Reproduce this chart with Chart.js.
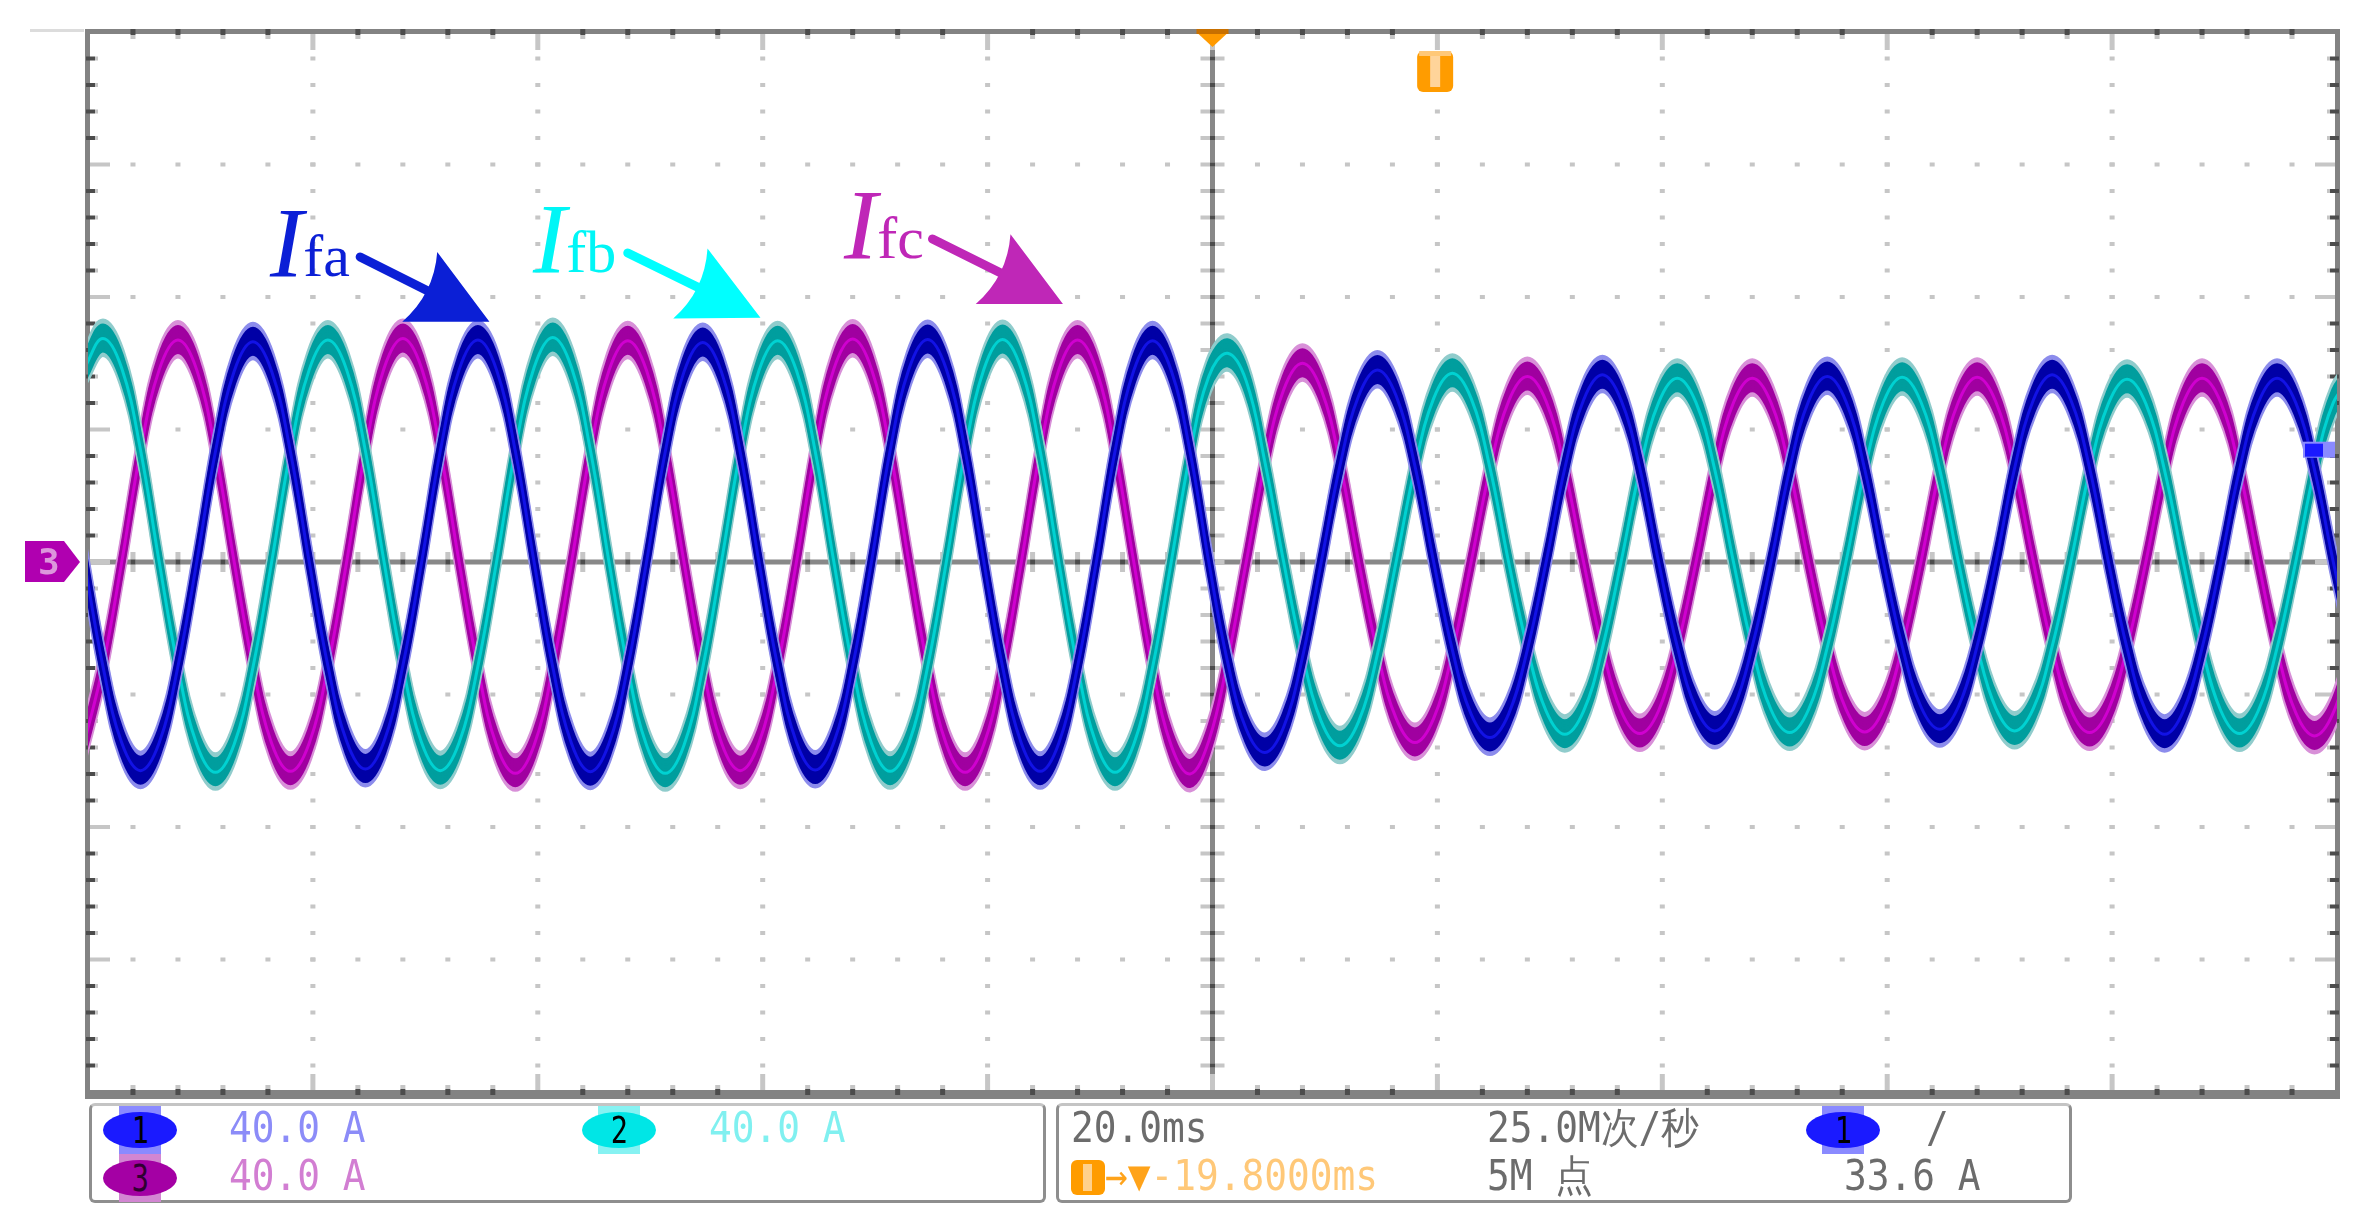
<!DOCTYPE html>
<html lang="zh">
<head>
<meta charset="utf-8">
<title>Ifa Ifb Ifc</title>
<script src="https://cdn.jsdelivr.net/npm/chart.js@4.4.1/dist/chart.umd.min.js"></script>
<style>
html, body { margin: 0; padding: 0; background: #fff; }
#wrap { position: relative; width: 2368px; height: 1228px; overflow: hidden; }
#scope { position: absolute; left: 0; top: 0; width: 2368px; height: 1228px; }
.box { position: absolute; top: 1103px; height: 94px; border: 3px solid #8e8e8e; border-top-color: #c4c4c4; border-radius: 6px; }
.txt { position: absolute; font-family: "DejaVu Sans Mono", monospace; font-size: 42px; line-height: 42px; white-space: nowrap; transform: scaleX(0.9); transform-origin: 0 0; color: #6c6c6c; }
.badge { position: absolute; width: 74px; height: 36px; }
.badge i { position: absolute; left: 16px; top: -6px; width: 42px; height: 48px; background: var(--l); }
.badge b { position: absolute; left: 0; top: 0; width: 74px; height: 36px; border-radius: 50%; background: var(--c); color: #000; font: 38px/36px "DejaVu Sans Mono", monospace; text-align: center; }
.badge b span { display: inline-block; transform: scaleX(0.75); }
.ticon { position: absolute; left: 1071px; top: 1160px; width: 34px; height: 35px; background: #ff9c00; border-radius: 6px; }
.ticon::after { content: ""; position: absolute; left: 12px; top: 4px; width: 9px; height: 27px; background: #ffd18c; }
.lab { position: absolute; font-family: "Liberation Serif", "Times New Roman", serif; font-size: 100px; line-height: 100px; white-space: nowrap; }
.lab i { font-style: italic; }
.lab span { font-size: 60px; line-height: 0; }
.tag3 { position: absolute; left: 38px; top: 544px; font: bold 36px/36px "DejaVu Sans Mono", monospace; color: #dc96dc; }
</style>
</head>
<body>
<div id="wrap">
  <canvas id="scope" width="2368" height="1228"></canvas>

  <div class="lab" style="left:270px;top:193px;color:#0b1fd6"><i>I</i><span>fa</span></div>
  <div class="lab" style="left:533px;top:189px;color:#00f6f6"><i>I</i><span>fb</span></div>
  <div class="lab" style="left:844px;top:175px;color:#bf27b7"><i>I</i><span>fc</span></div>
  <div class="tag3">3</div>

  <div class="box" style="left:89px;width:951px"></div>
  <div class="box" style="left:1056px;width:1010px"></div>

  <div class="badge" style="left:103px;top:1112px;--c:#1a1aff;--l:#8a8aff"><i></i><b><span>1</span></b></div>
  <div class="badge" style="left:582px;top:1112px;--c:#00e6e6;--l:#86f2f2"><i></i><b><span>2</span></b></div>
  <div class="badge" style="left:103px;top:1160px;--c:#a400a4;--l:#d286d2"><i></i><b><span style="color:#300030">3</span></b></div>
  <div class="txt" style="left:229px;top:1107px;color:#8c8cf8">40.0 A</div>
  <div class="txt" style="left:709px;top:1107px;color:#80f0f0">40.0 A</div>
  <div class="txt" style="left:229px;top:1155px;color:#d27ed2">40.0 A</div>

  <div class="txt" style="left:1071px;top:1107px">20.0ms</div>
  <div class="txt" style="left:1487px;top:1107px">25.0M次/秒</div>
  <div class="badge" style="left:1806px;top:1112px;--c:#1a1aff;--l:#8a8aff"><i></i><b><span>1</span></b></div>
  <div class="txt" style="left:1926px;top:1107px">/</div>
  <div class="ticon"></div>
  <div class="txt" style="left:1105px;top:1155px"><span style="color:#ffa31a">→▼</span><span style="color:#ffc878">-19.8000ms</span></div>
  <div class="txt" style="left:1487px;top:1155px">5M 点</div>
  <div class="txt" style="left:1844px;top:1155px">33.6 A</div>
</div>

<script>
// sample times (ms), 12 samples per 20 ms cycle
const times = [
  -100.33, -98.67, -97, -95.33, -93.67, -92, -90.33, -88.67, -87, -85.33, -83.67, -82,
  -80.33, -78.67, -77, -75.33, -73.67, -72, -70.33, -68.67, -67, -65.33, -63.67, -62,
  -60.33, -58.67, -57, -55.33, -53.67, -52, -50.33, -48.67, -47, -45.33, -43.67, -42,
  -40.33, -38.67, -37, -35.33, -33.67, -32, -30.33, -28.67, -27, -25.33, -23.67, -22,
  -20.33, -18.67, -17, -15.33, -13.67, -12, -10.33, -8.67, -7, -5.33, -3.67, -2,
  -0.33, 1.33, 3, 4.67, 6.33, 8, 9.67, 11.33, 13, 14.67, 16.33, 18,
  19.67, 21.33, 23, 24.67, 26.33, 28, 29.67, 31.33, 33, 34.67, 36.33, 38,
  39.67, 41.33, 43, 44.67, 46.33, 48, 49.67, 51.33, 53, 54.67, 56.33, 58,
  59.67, 61.33, 63, 64.67, 66.33, 68, 69.67, 71.33, 73, 74.67, 76.33, 78,
  79.67, 81.33, 83, 84.67, 86.33, 88, 89.67, 91.33, 93, 94.67, 96.33, 98,
  99.67, 101.33
];

// channel 1 (A)
const ifa = [
  0, -31.5, -54.6, -63, -54.6, -31.5, 0, 33.3, 57.6, 66.5, 57.6, 33.3,
  0, -31.3, -54.1, -62.5, -54.1, -31.3, 0, 33.5, 58, 67, 58, 33.5,
  0, -31.7, -54.8, -63.3, -54.8, -31.7, 0, 33.2, 57.4, 66.3, 57.4, 33.2,
  0, -31.4, -54.4, -62.8, -54.4, -31.4, 0, 33.6, 58.2, 67.2, 58.2, 33.6,
  0, -31.6, -54.7, -63.2, -54.7, -31.6, 0, 33.4, 57.8, 66.8, 57.8, 33.4,
  0, -30, -50.5, -57.5, -49.8, -28.8, 0, 29, 50.2, 58, 50.2, 29,
  0, -26.5, -45.9, -53, -45.9, -26.5, 0, 28.3, 48.9, 56.5, 48.9, 28.3,
  0, -25.5, -44.2, -51, -44.2, -25.5, 0, 28, 48.5, 56, 48.5, 28,
  0, -25.3, -43.7, -50.5, -43.7, -25.3, 0, 28.3, 48.9, 56.5, 48.9, 28.3,
  0, -26, -45, -52, -45, -26, 0, 27.8, 48.1, 55.5, 48.1, 27.8,
  0, -26
];

// channel 2 (A)
const ifb = [
  58.5, 67.5, 58.5, 33.8, 0, -31.8, -55, -63.5, -55, -31.8, 0, 33.5,
  58, 67, 58, 33.5, 0, -31.5, -54.6, -63, -54.6, -31.5, 0, 33.9,
  58.7, 67.8, 58.7, 33.9, 0, -31.9, -55.3, -63.8, -55.3, -31.9, 0, 33.4,
  57.8, 66.8, 57.8, 33.4, 0, -31.6, -54.7, -63.2, -54.7, -31.6, 0, 33.6,
  58.2, 67.2, 58.2, 33.6, 0, -31.8, -55, -63.5, -55, -31.8, 0, 32.5,
  56, 63, 54.6, 30, 0, -27.8, -48.1, -55.5, -48.1, -27.8, 0, 28.5,
  49.4, 57, 49.4, 28.5, 0, -26, -45, -52, -45, -26, 0, 27.8,
  48.1, 55.5, 48.1, 27.8, 0, -25.8, -44.6, -51.5, -44.6, -25.8, 0, 27.9,
  48.3, 55.8, 48.3, 27.9, 0, -25.5, -44.2, -51, -44.2, -25.5, 0, 27.6,
  47.8, 55.2, 47.8, 27.6, 0, -25.9, -44.9, -51.8, -44.9, -25.9, 0, 27.8,
  48.1, 55.5
];

// channel 3 (A)
const ifc = [
  -54.6, -31.5, 0, 33.5, 58, 67, 58, 33.5, 0, -31.6, -54.7, -63.2,
  -54.7, -31.6, 0, 33.8, 58.5, 67.5, 58.5, 33.8, 0, -31.9, -55.3, -63.8,
  -55.3, -31.9, 0, 33.4, 57.8, 66.8, 57.8, 33.4, 0, -31.5, -54.6, -63,
  -54.6, -31.5, 0, 33.7, 58.3, 67.3, 58.3, 33.7, 0, -31.8, -55, -63.5,
  -55, -31.8, 0, 33.5, 58, 67, 58, 33.5, 0, -32, -55.4, -64,
  -54, -30, 0, 30, 52, 60, 52, 30, 0, -27.3, -47.2, -54.5,
  -47.2, -27.3, 0, 28, 48.5, 56, 48.5, 28, 0, -25.9, -44.9, -51.8,
  -44.9, -25.9, 0, 27.8, 48.1, 55.5, 48.1, 27.8, 0, -25.7, -44.4, -51.3,
  -44.4, -25.7, 0, 27.9, 48.3, 55.8, 48.3, 27.9, 0, -25.8, -44.6, -51.5,
  -44.6, -25.8, 0, 27.8, 48.1, 55.5, 48.1, 27.8, 0, -26.3, -45.5, -52.5,
  -45.5, -26.3
];

// graticule: 20 ms/div, 40 A/div
const xTicks = [-100, -80, -60, -40, -20, 0, 20, 40, 60, 80, 100];
const yTicks = [-160, -120, -80, -40, 0, 40, 80, 120, 160];

const triggerTime = 19.8;   // ms
const triggerLevel = 33.6;  // A

// label arrows, in (ms, A)
const notes = [
  { color: '#0b1fd6', tail: [-75.8, 92.1], tip: [-64.3, 72.5] },
  { color: '#00ffff', tail: [-52.0, 93.3], tip: [-40.2, 73.7] },
  { color: '#bf27b7', tail: [-24.9, 97.5], tip: [-13.3, 77.9] }
];

const traceStyle = [
  { core: '#1212e6', band: '#0000a6', edge: '#8c8cec' },
  { core: '#00d2d2', band: '#009e9e', edge: '#90cccc' },
  { core: '#d000d0', band: '#a000a0', edge: '#d890d8' }
];

function minorsOf(ticks) {
  const out = [];
  for (let i = 0; i < ticks.length - 1; i++) {
    for (let j = 0; j < 5; j++) out.push(ticks[i] + (ticks[i + 1] - ticks[i]) * j / 5);
  }
  return out.slice(1);
}

const graticule = {
  id: 'graticule',
  beforeDatasetsDraw(chart) {
    const { ctx, chartArea: a, scales: { x, y } } = chart;
    const w = a.right - a.left, h = a.bottom - a.top;
    const xAll = minorsOf(xTicks).map(v => x.getPixelForValue(v));
    const yAll = minorsOf(yTicks).map(v => y.getPixelForValue(v));
    const xMaj = xTicks.slice(1, -1);
    const yMaj = yTicks.slice(1, -1);
    const xMid = x.getPixelForValue(0), yMid = y.getPixelForValue(0);
    const light = '#c6c6c6', dark = '#4c4c4c';
    ctx.save();

    // dotted grid
    ctx.fillStyle = light;
    xMaj.forEach(v => {
      if (v === 0) return;
      const px = x.getPixelForValue(v);
      yAll.forEach(py => ctx.fillRect(px - 2.5, py - 2, 5, 4));
    });
    yMaj.forEach(v => {
      if (v === 0) return;
      const py = y.getPixelForValue(v);
      xAll.forEach(px => ctx.fillRect(px - 2.5, py - 2, 5, 4));
    });

    // center axes
    ctx.fillStyle = '#888';
    ctx.fillRect(xMid - 2.5, a.top, 5, h);
    ctx.fillRect(a.left, yMid - 2.5, w, 5);
    yAll.forEach(py => {
      ctx.fillStyle = light; ctx.fillRect(xMid - 12, py - 2, 24, 4);
      ctx.fillStyle = dark; ctx.fillRect(xMid - 2.5, py - 2, 5, 4);
    });
    xAll.forEach(px => {
      ctx.fillStyle = light; ctx.fillRect(px - 2.5, yMid - 10, 5, 20);
      ctx.fillStyle = dark; ctx.fillRect(px - 2.5, yMid - 2.5, 5, 5);
    });

    // frame
    ctx.fillStyle = '#838383';
    ctx.fillRect(a.left - 3, a.top - 3, w + 6, 5);
    ctx.fillRect(a.left - 3, a.bottom - 2, w + 6, 9);
    ctx.fillRect(a.left - 3, a.top - 3, 5, h + 10);
    ctx.fillRect(a.right - 2, a.top - 3, 5, h + 10);
    ctx.fillStyle = '#dcdcdc';
    ctx.fillRect(30, a.top - 3, a.left - 34, 3);

    const xMajPx = xMaj.map(v => x.getPixelForValue(v));
    const yMajPx = yMaj.map(v => y.getPixelForValue(v));
    xAll.forEach(px => {
      const major = xMajPx.some(m => Math.abs(m - px) < 1);
      if (major) {
        ctx.fillStyle = light;
        ctx.fillRect(px - 2.5, a.top + 2, 5, 16);
        ctx.fillRect(px - 2.5, a.bottom - 18, 5, 16);
      } else {
        ctx.fillStyle = dark;
        ctx.fillRect(px - 2.5, a.top - 3, 5, 6);
        ctx.fillRect(px - 2.5, a.bottom - 3, 5, 6);
        ctx.fillStyle = light;
        ctx.fillRect(px - 2.5, a.top + 3, 5, 4);
        ctx.fillRect(px - 2.5, a.bottom - 7, 5, 4);
      }
    });
    yAll.forEach(py => {
      const major = yMajPx.some(m => Math.abs(m - py) < 1);
      if (major) {
        ctx.fillStyle = light;
        ctx.fillRect(a.left + 2, py - 2, 20, 4);
        ctx.fillRect(a.right - 22, py - 2, 20, 4);
      } else {
        ctx.fillStyle = dark;
        ctx.fillRect(a.left - 2, py - 2, 9, 4);
        ctx.fillRect(a.right - 7, py - 2, 9, 4);
        ctx.fillStyle = light;
        ctx.fillRect(a.left + 7, py - 2, 3, 4);
        ctx.fillRect(a.right - 10, py - 2, 3, 4);
      }
    });
    ctx.restore();
  },

  // noisy trace: a band drawn under each line
  beforeDatasetDraw(chart, args) {
    const st = traceStyle[args.index];
    const line = args.meta.dataset;
    const { ctx, chartArea: a } = chart;
    ctx.save();
    ctx.beginPath();
    ctx.rect(a.left, a.top, a.right - a.left, a.bottom - a.top);
    ctx.clip();
    ctx.lineJoin = 'round';
    [[st.edge, 17, 6], [st.band, 13, 4]].forEach(([color, half, lw]) => {
      ctx.strokeStyle = color;
      ctx.lineWidth = lw;
      for (let off = -half; off <= half; off += 2.5) {
        ctx.save();
        ctx.translate(0, off);
        ctx.beginPath();
        line.path(ctx);
        ctx.stroke();
        ctx.restore();
      }
    });
    ctx.restore();
  },

  afterDatasetsDraw(chart) {
    const { ctx, chartArea: a, scales: { x, y } } = chart;
    ctx.save();

    // label arrows
    notes.forEach(n => {
      const tx = x.getPixelForValue(n.tip[0]), ty = y.getPixelForValue(n.tip[1]);
      const sx = x.getPixelForValue(n.tail[0]), sy = y.getPixelForValue(n.tail[1]);
      const len = Math.hypot(tx - sx, ty - sy);
      const ux = (tx - sx) / len, uy = (ty - sy) / len;
      const head = 78, half = 39;
      const bx = tx - ux * head, by = ty - uy * head;
      ctx.strokeStyle = n.color;
      ctx.fillStyle = n.color;
      ctx.lineWidth = 9;
      ctx.lineCap = 'round';
      ctx.beginPath();
      ctx.moveTo(sx, sy);
      ctx.lineTo(bx + ux * 12, by + uy * 12);
      ctx.stroke();
      ctx.beginPath();
      ctx.moveTo(tx, ty);
      ctx.lineTo(bx - uy * half, by + ux * half);
      ctx.quadraticCurveTo(bx + ux * 16, by + uy * 16, bx + uy * half, by - ux * half);
      ctx.closePath();
      ctx.fill();
    });

    // trigger position marks
    const xc = x.getPixelForValue(0);
    ctx.fillStyle = '#c87000';
    ctx.fillRect(xc - 16, a.top - 3, 32, 5);
    ctx.fillStyle = '#ff9a00';
    ctx.beginPath();
    ctx.moveTo(xc - 14, a.top + 2);
    ctx.lineTo(xc + 14, a.top + 2);
    ctx.lineTo(xc, a.top + 15);
    ctx.closePath();
    ctx.fill();

    const xt = x.getPixelForValue(triggerTime);
    ctx.fillStyle = '#ff9c00';
    ctx.beginPath();
    ctx.roundRect(xt - 18, a.top + 19, 36, 41, 6);
    ctx.fill();
    ctx.fillStyle = '#ffc878';
    ctx.fillRect(xt - 16, a.top + 19, 32, 5);
    ctx.fillStyle = '#ffd49a';
    ctx.fillRect(xt - 5, a.top + 24, 10, 31);

    // trigger level on the right edge
    const yl = y.getPixelForValue(triggerLevel);
    ctx.fillStyle = '#8a8aff';
    ctx.fillRect(a.right - 34, yl - 9, 32, 16);
    ctx.fillStyle = '#1a1aff';
    ctx.fillRect(a.right - 32, yl - 7, 18, 13);

    // channel 3 ground tag
    const y0 = y.getPixelForValue(0);
    ctx.fillStyle = '#b000b0';
    ctx.beginPath();
    ctx.moveTo(25, y0 - 21);
    ctx.lineTo(64, y0 - 21);
    ctx.lineTo(80, y0);
    ctx.lineTo(64, y0 + 20);
    ctx.lineTo(25, y0 + 20);
    ctx.closePath();
    ctx.fill();
    ctx.restore();
  }
};

const series = [ifa, ifb, ifc];
const names = ['Ifa', 'Ifb', 'Ifc'];

new Chart(document.getElementById('scope'), {
  type: 'line',
  data: {
    datasets: series.map((vals, i) => ({
      label: names[i],
      data: times.map((t, k) => ({ x: t, y: vals[k] })),
      borderColor: traceStyle[i].core,
      borderWidth: 3,
      pointRadius: 0,
      tension: 0.4,
      fill: false
    }))
  },
  options: {
    responsive: false,
    animation: false,
    events: [],
    layout: { padding: { left: 88, right: 31, top: 32, bottom: 136 } },
    plugins: { legend: { display: false }, tooltip: { enabled: false } },
    scales: {
      x: { type: 'linear', min: xTicks[0], max: xTicks[xTicks.length - 1], display: false },
      y: { type: 'linear', min: yTicks[0], max: yTicks[yTicks.length - 1], display: false }
    }
  },
  plugins: [graticule]
});
</script>
</body>
</html>
